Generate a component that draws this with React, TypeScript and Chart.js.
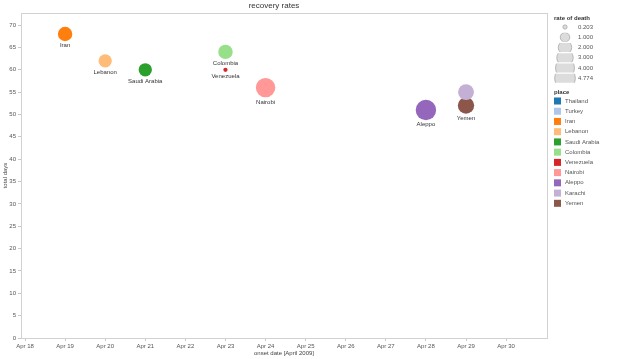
import React, { useEffect, useRef } from "react";
import { Chart, registerables } from "chart.js";

Chart.register(...registerables);

const places = ["Thailand", "Turkey", "Iran", "Lebanon", "Saudi Arabia", "Colombia", "Venezuela", "Nairobi", "Aleppo", "Karachi", "Yemen"];
const placeColors = ["#1f77b4", "#aec7e8", "#ff7f0e", "#ffbb78", "#2ca02c", "#98df8a", "#d62728", "#ff9896", "#9467bd", "#c5b0d5", "#8c564b"];
// onset day in April 2009 (null = no mark)
const onsetDay: (number | null)[] = [null, null, 19, 20, 21, 23, 23, 24, 28, 29, 29];
const totalDays: (number | null)[] = [null, null, 68, 62, 60, 64, 60, 56, 51, 55, 52];
const rateOfDeath: (number | null)[] = [null, null, 2.3, 1.95, 1.95, 2.3, 0.203, 4.15, 4.6, 2.75, 2.95];
const showLabel = [true, true, true, true, true, true, true, true, true, false, true];

const sizeLegendValues = [0.203, 1.0, 2.0, 3.0, 4.0, 4.774];
const sizeLegendLabels = ["0.203", "1.000", "2.000", "3.000", "4.000", "4.774"];
const xTickDays = [18, 19, 20, 21, 22, 23, 24, 25, 26, 27, 28, 29, 30];
const yTickValues = [0, 5, 10, 15, 20, 25, 30, 35, 40, 45, 50, 55, 60, 65, 70];

const MAX_RATE = 4.774;
const MAX_R = 10.4;
const radiusFor = (rate: number) => MAX_R * Math.sqrt(rate / MAX_RATE);

const FONT = "'Liberation Sans', Arial, sans-serif";

export default function App() {
  const ref = useRef<HTMLCanvasElement | null>(null);

  useEffect(() => {
    if (!ref.current) return;
    const datasets = places.map((p, i) => ({
      label: p,
      data:
        onsetDay[i] != null
          ? [{ x: onsetDay[i] as number, y: totalDays[i] as number, r: radiusFor(rateOfDeath[i] as number) }]
          : [],
      backgroundColor: placeColors[i],
      borderWidth: 0,
      hoverBorderWidth: 0,
    }));

    const overlay = {
      id: "overlay",
      afterDraw(chart: any) {
        const ctx = chart.ctx as CanvasRenderingContext2D;
        const a = chart.chartArea;
        ctx.save();
        // plot border
        ctx.strokeStyle = "#d2d2d2";
        ctx.lineWidth = 1;
        ctx.strokeRect(Math.round(a.left) + 0.5, Math.round(a.top) + 0.5, Math.round(a.right - a.left), Math.round(a.bottom - a.top));

        // title
        ctx.fillStyle = "#333";
        ctx.font = `8px ${FONT}`;
        ctx.textAlign = "center";
        ctx.textBaseline = "middle";
        ctx.fillText("recovery rates", 274, 6);

        // axis titles
        ctx.font = `6px ${FONT}`;
        ctx.fillStyle = "#444";
        ctx.fillText("onset date [April 2009]", (a.left + a.right) / 2, 353);
        ctx.save();
        ctx.translate(5, (a.top + a.bottom) / 2);
        ctx.rotate(-Math.PI / 2);
        ctx.fillText("total days", 0, 0);
        ctx.restore();

        // point labels
        ctx.fillStyle = "#333";
        ctx.textBaseline = "top";
        places.forEach((p, i) => {
          if (!showLabel[i]) return;
          const meta = chart.getDatasetMeta(i);
          meta.data.forEach((el: any) => {
            const r = el.options.radius || 0;
            ctx.fillText(p, el.x, el.y + r + 1.5);
          });
        });

        // size legend
        const lx = 554;
        ctx.textAlign = "left";
        ctx.textBaseline = "middle";
        ctx.font = `bold 6px ${FONT}`;
        ctx.fillStyle = "#333";
        ctx.fillText("rate of death", lx, 18);
        ctx.font = `6px ${FONT}`;
        sizeLegendValues.forEach((v, i) => {
          const cy = 27 + i * 10.25;
          const r = radiusFor(v);
          ctx.save();
          ctx.beginPath();
          ctx.rect(550, cy - 4.6, 40, 9.2);
          ctx.clip();
          ctx.beginPath();
          ctx.arc(565, cy, r, 0, Math.PI * 2);
          ctx.fillStyle = "#dcdcdc";
          ctx.fill();
          ctx.strokeStyle = "#aaaaaa";
          ctx.lineWidth = 0.8;
          ctx.stroke();
          ctx.restore();
          ctx.fillStyle = "#555";
          ctx.fillText(sizeLegendLabels[i], 578, cy);
        });

        // colour legend
        ctx.font = `bold 6px ${FONT}`;
        ctx.fillStyle = "#333";
        ctx.fillText("place", lx, 92.5);
        ctx.font = `6px ${FONT}`;
        places.forEach((p, i) => {
          const cy = 101 + i * 10.23;
          ctx.fillStyle = placeColors[i];
          ctx.fillRect(lx, cy - 3.5, 7, 7);
          ctx.fillStyle = "#555";
          ctx.fillText(p, 565, cy);
        });
        ctx.restore();
      },
    };

    const chart = new Chart(ref.current, {
      type: "bubble",
      data: { datasets },
      options: {
        animation: false,
        responsive: false,
        devicePixelRatio: 1,
        events: [],
        layout: { padding: { left: 0, top: 13, right: 77, bottom: 0 } },
        plugins: { legend: { display: false }, tooltip: { enabled: false }, title: { display: false } },
        scales: {
          x: {
            type: "linear",
            min: 17.9,
            max: 31.02,
            afterFit(scale: any) {
              scale.height = 21;
              scale.paddingLeft = 0;
              scale.paddingRight = 0;
            },
            afterBuildTicks(scale: any) {
              scale.ticks = xTickDays.map((v) => ({ value: v }));
            },
            grid: { display: true, drawOnChartArea: false, drawTicks: true, tickLength: 3, tickColor: "#c8c8c8" },
            border: { display: true, color: "#d2d2d2" },
            ticks: {
              autoSkip: false,
              maxRotation: 0,
              padding: 2,
              color: "#555",
              font: { family: FONT, size: 6 },
              callback: (v: any) => "Apr " + v,
            },
          },
          y: {
            type: "linear",
            min: 0,
            max: 72.7,
            afterFit(scale: any) {
              scale.width = 21;
              scale.paddingTop = 0;
              scale.paddingBottom = 0;
            },
            afterBuildTicks(scale: any) {
              scale.ticks = yTickValues.map((v) => ({ value: v }));
            },
            grid: { display: true, drawOnChartArea: false, drawTicks: true, tickLength: 3, tickColor: "#c8c8c8" },
            border: { display: true, color: "#d2d2d2" },
            ticks: {
              autoSkip: false,
              padding: 2,
              color: "#555",
              font: { family: FONT, size: 6 },
            },
          },
        },
      },
      plugins: [overlay],
    } as any);
    return () => chart.destroy();
  }, []);

  return (
    <div style={{ position: "absolute", left: 0, top: 0, width: 624, height: 359, background: "#fff" }}>
      <canvas ref={ref} width={624} height={359} style={{ width: 624, height: 359, display: "block" }} />
    </div>
  );
}
